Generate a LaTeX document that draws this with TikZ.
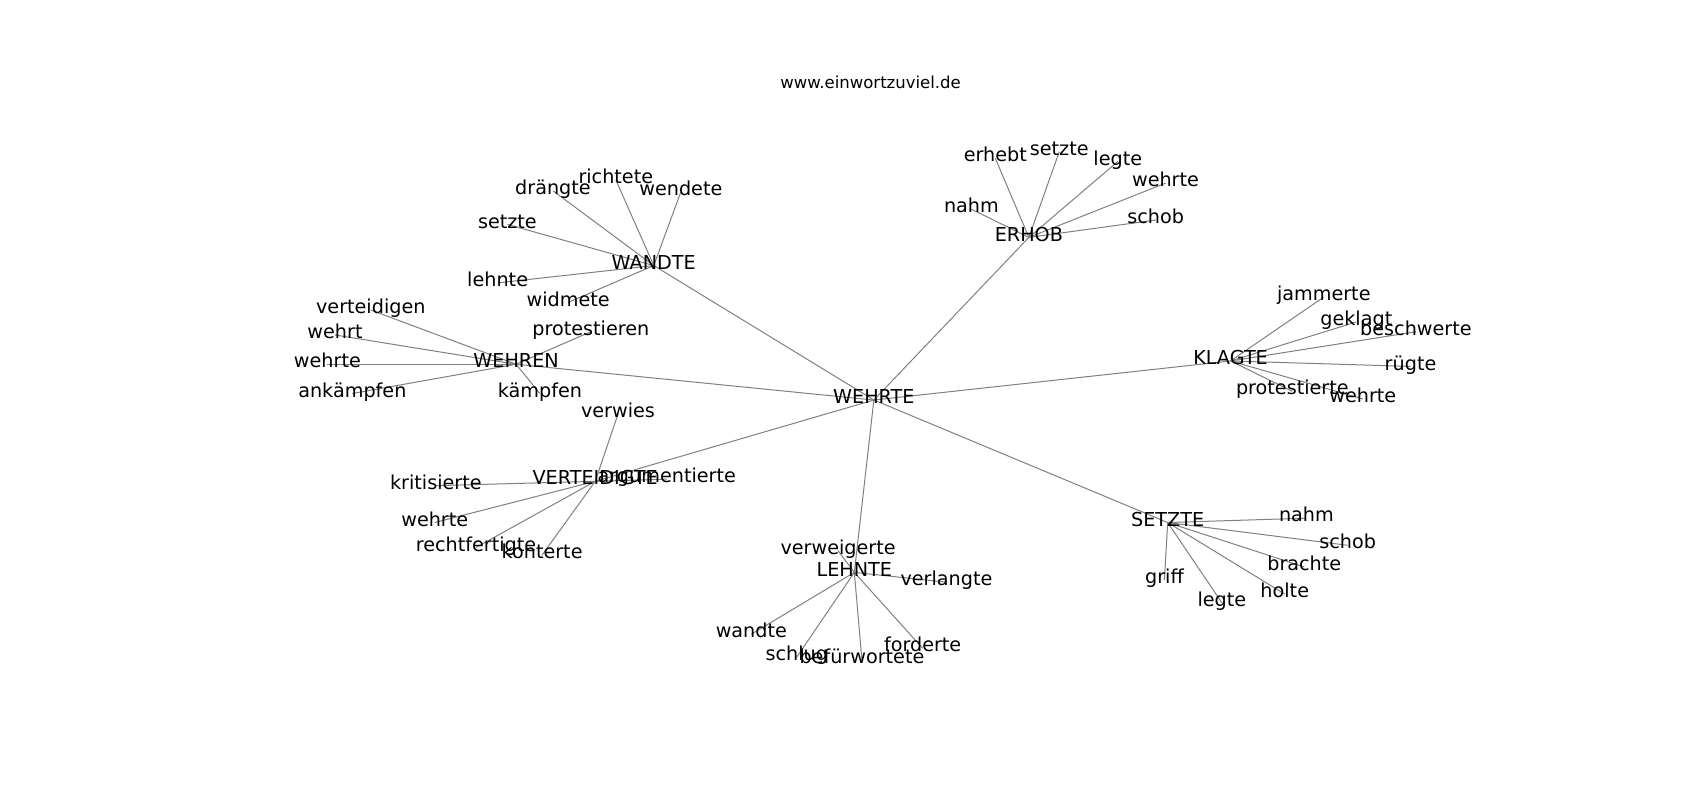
\documentclass[tikz,border=0pt]{standalone}
\usepackage{fontspec}
\setmainfont{DejaVu Sans}
\usetikzlibrary{backgrounds}
\begin{document}
\begin{tikzpicture}[x=1.0842pt,y=-1.0842pt,
  lbl/.style={inner sep=0pt,outer sep=0pt,text height=0.73em,text depth=0pt,yshift=-3.2pt,font=\fontsize{19.2pt}{22pt}\selectfont,text=black},
  ttl/.style={inner sep=0pt,outer sep=0pt,text height=0.73em,text depth=0pt,yshift=-2.5pt,font=\fontsize{16.5pt}{19pt}\selectfont,text=black},
  edge/.style={draw=gray,line width=1pt}]
\useasboundingbox (0,0) rectangle (1568,738);
\node[ttl] (title) at (803,76) {www.einwortzuviel.de};
% hubs
\node[lbl] (c) at (806,366) {WEHRTE};
\node[lbl] (wa) at (603,242) {WANDTE};
\node[lbl] (we) at (476,333) {WEHREN};
\node[lbl] (er) at (949,216) {ERHOB};
\node[lbl] (kl) at (1135,330) {KLAGTE};
\node[lbl] (ve) at (549,441) {VERTEIDIGTE};
\node[lbl] (le) at (788,525) {LEHNTE};
\node[lbl] (se) at (1077,479) {SETZTE};
% WANDTE
\node[lbl] (wa1) at (510,173) {drängte};
\node[lbl] (wa2) at (568,163) {richtete};
\node[lbl] (wa3) at (628,174) {wendete};
\node[lbl] (wa4) at (468,204) {setzte};
\node[lbl] (wa5) at (459,258) {lehnte};
\node[lbl] (wa6) at (524,276) {widmete};
% WEHREN
\node[lbl] (we1) at (342,283) {verteidigen};
\node[lbl] (we2) at (309,306) {wehrt};
\node[lbl] (we3) at (302,333) {wehrte};
\node[lbl] (we4) at (325,360) {ankämpfen};
\node[lbl] (we5) at (545,303) {protestieren};
\node[lbl] (we6) at (498,360) {kämpfen};
% ERHOB
\node[lbl] (er1) at (918,143) {erhebt};
\node[lbl] (er2) at (977,137) {setzte};
\node[lbl] (er3) at (1031,146) {legte};
\node[lbl] (er4) at (1075,166) {wehrte};
\node[lbl] (er5) at (896,190) {nahm};
\node[lbl] (er6) at (1066,200) {schob};
% KLAGTE
\node[lbl] (kl1) at (1221,271) {jammerte};
\node[lbl] (kl2) at (1251,294) {geklagt};
\node[lbl] (kl3) at (1306,303) {beschwerte};
\node[lbl] (kl4) at (1301,335) {rügte};
\node[lbl] (kl5) at (1192,358) {protestierte};
\node[lbl] (kl6) at (1257,365) {wehrte};
% VERTEIDIGTE
\node[lbl] (ve1) at (570,379) {verwies};
\node[lbl] (ve2) at (615,439) {argumentierte};
\node[lbl] (ve3) at (402,445) {kritisierte};
\node[lbl] (ve4) at (401,479) {wehrte};
\node[lbl] (ve5) at (439,502) {rechtfertigte};
\node[lbl] (ve6) at (500,509) {konterte};
% LEHNTE
\node[lbl] (le1) at (773,505) {verweigerte};
\node[lbl] (le2) at (873,534) {verlangte};
\node[lbl] (le3) at (693,582) {wandte};
\node[lbl] (le4) at (735,603) {schlug};
\node[lbl] (le5) at (795,606) {befürwortete};
\node[lbl] (le6) at (851,595) {forderte};
% SETZTE
\node[lbl] (se1) at (1205,475) {nahm};
\node[lbl] (se2) at (1243,500) {schob};
\node[lbl] (se3) at (1203,520) {brachte};
\node[lbl] (se4) at (1185,545) {holte};
\node[lbl] (se5) at (1074,532) {griff};
\node[lbl] (se6) at (1127,553) {legte};
\begin{pgfonlayer}{background}
\foreach \h in {wa,we,er,kl,ve,le,se} {
  \draw[edge] (c.center) -- (\h.center);
  \foreach \i in {1,...,6} { \draw[edge] (\h.center) -- (\h\i.center); }
}
\end{pgfonlayer}
\end{tikzpicture}
\end{document}
